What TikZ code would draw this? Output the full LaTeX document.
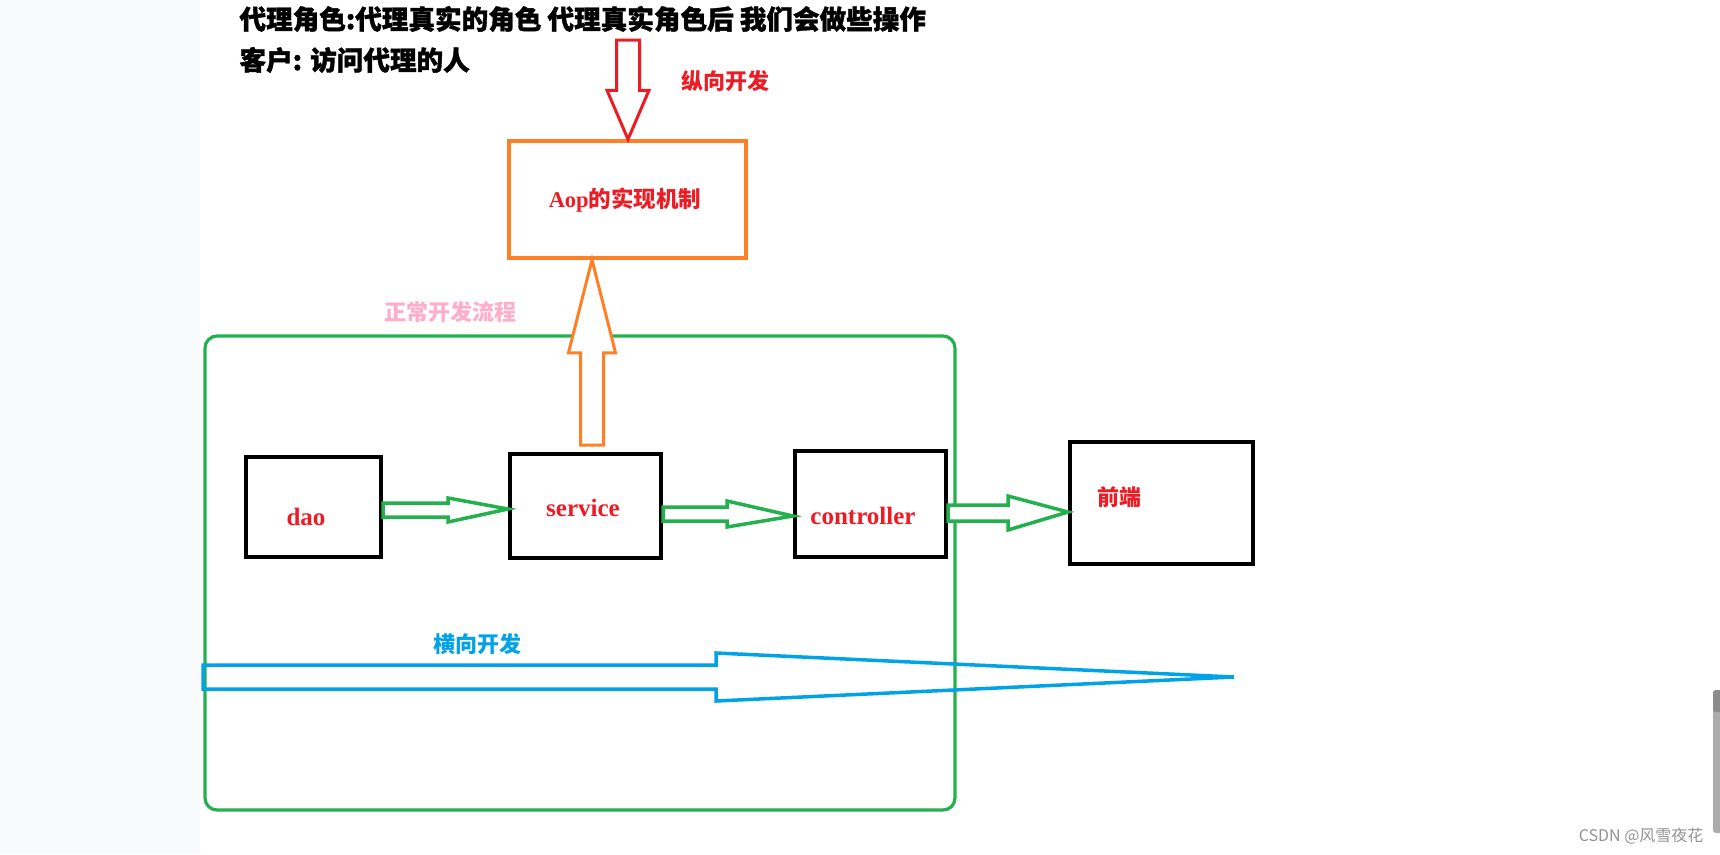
\documentclass[tikz,border=0pt]{standalone}
\usepackage{fontspec}
\usepackage{tikz}
\usetikzlibrary{calc}
\setmainfont{Liberation Serif}
\newfontfamily\cjk{Noto Sans CJK SC}
\newfontfamily\cjkheavy{Noto Sans CJK SC}[BoldFeatures={FakeBold=1.3}]

\definecolor{pred}{HTML}{ED1C24}
\definecolor{porange}{HTML}{FF7F27}
\definecolor{pgreen}{HTML}{22B14C}
\definecolor{pblue}{HTML}{00A2E8}
\definecolor{ppink}{HTML}{FFAEC9}
\definecolor{pside}{HTML}{F8FAFD}

% block arrow to the right: style, from, to, shaft half, head half, head length
\newcommand{\harrow}[6]{%
\draw[#1] let \p1=(#2), \p2=(#3) in
  (\x1,{\y1+#4}) -- ({\x2-#6},{\y1+#4}) -- ({\x2-#6},{\y1+#5}) -- (\x2,\y2)
  -- ({\x2-#6},{\y1-#5}) -- ({\x2-#6},{\y1-#4}) -- (\x1,{\y1-#4}) -- cycle;}

\begin{document}
\begin{tikzpicture}[x=1pt, y=-1pt,
  box/.style={draw=black, line width=4pt, inner sep=0pt},
  grp/.style={draw=pgreen, line width=3.2pt, rounded corners=12pt, inner sep=0pt},
  lbl/.style={text=pred, font=\fontsize{25}{28}\selectfont\bfseries},
  cjklbl/.style={font=\cjk\fontsize{22}{26}\selectfont\bfseries},
  tline/.style={anchor=west, font=\cjkheavy\fontsize{26.6}{30}\selectfont\bfseries},
  garrow/.style={draw=pgreen, line width=3.5pt, fill=white, line join=miter}]

\useasboundingbox (0,0) rectangle (1720,854);
\fill[white] (0,0) rectangle (1720,854);
\fill[pside] (0,0) rectangle (200,854);

\node[tline] (title) at (236,19) {代理角色:代理真实的角色 代理真实角色后 我们会做些操作};
\node[tline] (client) at (236,60) {客户: 访问代理的人};

\node[grp, minimum width=750, minimum height=474] (group) at (580,573) {};
\node[cjklbl, text=ppink] (grplbl) at (450,312) {正常开发流程};

\node[draw=porange, line width=3.5pt, inner sep=0pt, minimum width=237, minimum height=117] (aop) at (627.5,199.5) {};
\node[lbl, font=\fontsize{22.5}{26}\selectfont\bfseries] (aoplbl) at (625,200) {Aop{\cjk 的实现机制}};

\node[box, minimum width=135, minimum height=100] (dao) at (313.5,507) {};
\node[box, minimum width=151, minimum height=104] (service) at (585.5,506) {};
\node[box, minimum width=151, minimum height=106] (controller) at (870.5,504) {};
\node[box, minimum width=183, minimum height=122] (front) at (1161.5,503) {};

\node[lbl] (daolbl) at (306,517) {dao};
\node[lbl] (servicelbl) at (583,508) {service};
\node[lbl] (controllerlbl) at (863,516) {controller};
\node[cjklbl, text=pred] (frontlbl) at (1119,497) {前端};

% vertical arrows
\coordinate (vtop) at (628,40);
\draw[pred, line width=3pt, fill=white] let \p1=(vtop), \p2=(aop.north) in
  ({\x1-11.5},\y1) -- ({\x1+11.5},\y1) -- ({\x1+11.5},{\y2+49}) -- ({\x1+21},{\y2+49})
  -- (\x1,\y2) -- ({\x1-21},{\y2+49}) -- ({\x1-11.5},{\y2+49}) -- cycle;
\node[cjklbl, text=pred] (vlbl) at (725,81) {纵向开发};

\coordinate (aopfoot) at (592,445);
\draw[porange, line width=3pt, fill=white] let \p1=(aopfoot), \p2=(aop.south) in
  ({\x1-11.5},\y1) -- ({\x1+11.5},\y1) -- ({\x1+11.5},{\y2-93}) -- ({\x1+23.5},{\y2-93})
  -- (\x1,\y2) -- ({\x1-23.5},{\y2-93}) -- ({\x1-11.5},{\y2-93}) -- cycle;

% flow arrows
\harrow{garrow}{$(dao.east)+(0,3)$}{$(service.west)+(0,3)$}{7}{12}{60}
\harrow{garrow}{$(service.east)+(0,8)$}{$(controller.west)+(0,12)$}{7}{13}{66}
\harrow{garrow}{$(controller.east)+(0,9)$}{$(front.west)+(0,9)$}{8}{17}{60}

\coordinate (hstart) at (203,677);
\coordinate (hend) at (1234,677);
\harrow{draw=pblue, line width=3.5pt}{hstart}{hend}{12}{24}{518}
\node[cjklbl, text=pblue] (hlbl) at (477,644) {横向开发};

\fill[gray!65, rounded corners=3pt] (1713,690) rectangle (1724,833);
\fill[gray!90, rounded corners=3pt] (1713,690) rectangle (1724,712);
\node[anchor=east, text=gray!85, font=\cjk\fontsize{16}{18}\selectfont] (mark) at (1707,836) {CSDN @风雪夜花};

\end{tikzpicture}
\end{document}
